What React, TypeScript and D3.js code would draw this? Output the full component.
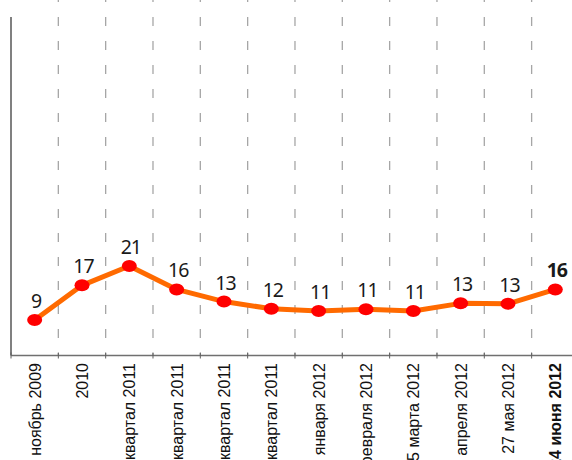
import React from "react";
import * as d3 from "d3";

const categories = [
  "ноябрь 2009",
  "2010",
  "I квартал 2011",
  "II квартал 2011",
  "III квартал 2011",
  "IV квартал 2011",
  "1 января 2012",
  "1 февраля 2012",
  "15 марта 2012",
  "15 апреля 2012",
  "27 мая 2012",
  "24 июня 2012",
];
const values = [9, 16.7, 21, 15.8, 13.1, 11.5, 11, 11.4, 11, 12.7, 12.6, 15.8];
const yDomain = [0, 75];

const W = 572;
const H = 460;

export default function App() {
  const left = 11;
  const step = 47.33;
  const x = d3
    .scaleBand<string>()
    .domain(categories)
    .range([left, left + step * categories.length])
    .padding(0);
  const y = d3.scaleLinear().domain(yDomain).range([360.5, 23]);
  const axisY = 355.5;
  const cx = (c: string) => (x(c) ?? 0) + x.bandwidth() / 2;

  const line = d3
    .line<number>()
    .x((_, i) => cx(categories[i]))
    .y((v) => y(v));

  const last = categories.length - 1;

  return (
    <svg
      width={W}
      height={H}
      style={{ position: "absolute", left: 0, top: 0, display: "block", background: "#fff" }}
    >
      {categories.slice(1).map((c) => (
        <line
          key={"g" + c}
          x1={x(c)}
          x2={x(c)}
          y1={-7}
          y2={axisY}
          stroke="#a6a6a6"
          strokeWidth={1.3}
          strokeDasharray="9 15"
        />
      ))}
      <line x1={left} x2={left} y1={17} y2={axisY} stroke="#808080" strokeWidth={2} />
      <line x1={left} x2={W} y1={axisY} y2={axisY} stroke="#707070" strokeWidth={1.5} />
      {categories.map((c) => (
        <line
          key={"t" + c}
          x1={x(c)}
          x2={x(c)}
          y1={axisY - 3}
          y2={axisY + 3}
          stroke="#606060"
          strokeWidth={1}
        />
      ))}
      <path d={line(values) ?? ""} fill="none" stroke="#ff6a00" strokeWidth={5} strokeLinejoin="round" />
      {values.map((v, i) => (
        <ellipse key={"p" + i} cx={cx(categories[i])} cy={y(v)} rx={7.5} ry={6} fill="#ff0000" />
      ))}
      {values.map((v, i) => (
        <text
          key={"l" + i}
          x={cx(categories[i]) + 1.5}
          y={y(v) - 12}
          textAnchor="middle"
          fontFamily="'Noto Sans', sans-serif"
          fontSize={19.5}
          letterSpacing={-1}
          fontWeight={i === last ? 700 : 400}
          fill="#1a1a1a"
        >
          {Math.round(v)}
        </text>
      ))}
      {categories.map((c, i) => (
        <text
          key={"c" + c}
          transform={`translate(${cx(c) + 6},${axisY + 7.5}) rotate(-90)`}
          textAnchor="end"
          fontFamily="'Liberation Sans', Arial, sans-serif"
          fontSize={16}
          fontWeight={i === last ? 700 : 400}
          fill="#111"
        >
          {c}
        </text>
      ))}
    </svg>
  );
}
